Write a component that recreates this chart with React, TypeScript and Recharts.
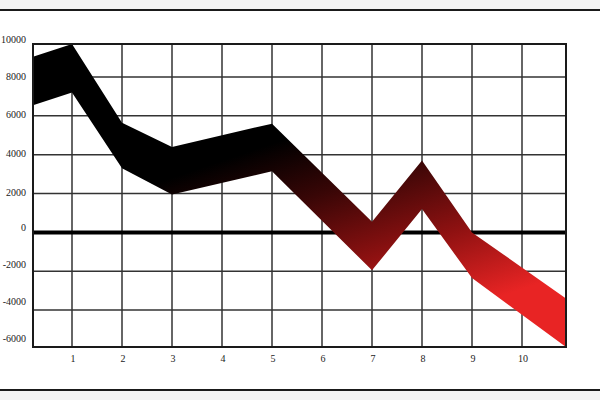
import React from "react";
import {
  ComposedChart,
  Area,
  XAxis,
  YAxis,
  CartesianGrid,
  ReferenceArea,
} from "recharts";

const xPositions = [0.22, 1, 2, 3, 5, 7, 8, 9, 10.88];
const upperValues = [9050, 9700, 5650, 4400, 5600, 550, 3700, 0, -3400];
const lowerValues = [6550, 7200, 3300, 1950, 3150, -1950, 1200, -2350, -5900];
const xTicks = [1, 2, 3, 4, 5, 6, 7, 8, 9, 10];
const yTicks = [-6000, -4000, -2000, 0, 2000, 4000, 6000, 8000, 10000];
const gridRows = [-4000, -2000, 2000, 4000, 6000, 8000];
const zeroLine = [
  { x: 0.22, z: 0 },
  { x: 10.88, z: 0 },
];

const data = xPositions.map((x, i) => ({ x, range: [lowerValues[i], upperValues[i]] }));

const YTick = (props: any) => {
  const { x, y, payload } = props;
  const v = payload.value as number;
  const shift = v <= 0 ? -5 + v / 1200 : v >= 10000 ? 1.5 : -1;
  return (
    <text x={x + 1} y={y} dy={3.5 + shift} textAnchor="end" fontFamily="'Liberation Serif', serif" fontSize={10} fill="#222">
      {v}
    </text>
  );
};

const XTick = (props: any) => {
  const { x, y, payload } = props;
  return (
    <text x={x + 1} y={y} dy={7} textAnchor="middle" fontFamily="'Liberation Serif', serif" fontSize={10} fill="#222">
      {payload.value}
    </text>
  );
};

export default function App() {
  return (
    <div
      style={{
        position: "absolute",
        left: 0,
        top: 0,
        width: 600,
        height: 400,
        background: "#f3f3f3",
        overflow: "hidden",
      }}
    >
      <div
        style={{
          position: "absolute",
          left: 0,
          top: 9,
          width: 600,
          height: 378,
          background: "#fff",
          borderTop: "2px solid #1a1a1a",
          borderBottom: "2px solid #1a1a1a",
        }}
      />
      <div style={{ position: "absolute", left: 0, top: 0 }}>
        <ComposedChart
          width={600}
          height={400}
          data={data}
          margin={{ top: 44, right: 34, bottom: 23, left: 0 }}
        >
          <defs>
            <linearGradient id="bandGrad" x1="0" y1="0" x2="0.6" y2="1">
              <stop offset="0%" stopColor="#000" />
              <stop offset="44%" stopColor="#000" />
              <stop offset="60%" stopColor="#380606" />
              <stop offset="80%" stopColor="#8e1111" />
              <stop offset="100%" stopColor="#e82424" />
            </linearGradient>
          </defs>
          <CartesianGrid
            stroke="#333"
            strokeWidth={1.5}
            horizontalValues={gridRows}
            verticalValues={xTicks}
          />
          <XAxis
            type="number"
            dataKey="x"
            domain={[0.22, 10.88]}
            ticks={xTicks}
            tick={<XTick />}
            tickLine={false}
            axisLine={false}
            height={30}
            allowDataOverflow
          />
          <YAxis
            type="number"
            domain={[-5900, 9700]}
            ticks={yTicks}
            tick={<YTick />}
            tickLine={false}
            axisLine={false}
            width={33}
            allowDataOverflow
            interval={0}
          />
          <Area
            data={zeroLine}
            type="linear"
            dataKey="z"
            stroke="#000"
            strokeWidth={4}
            fill="none"
            fillOpacity={0}
            dot={false}
            activeDot={false}
            isAnimationActive={false}
          />
          <Area
            type="linear"
            dataKey="range"
            stroke="none"
            fill="url(#bandGrad)"
            fillOpacity={1}
            isAnimationActive={false}
            activeDot={false}
            dot={false}
          />
          <ReferenceArea
            x1={0.22}
            x2={10.88}
            y1={-5900}
            y2={9700}
            fill="none"
            stroke="#1a1a1a"
            strokeWidth={2}
          />
        </ComposedChart>
      </div>
    </div>
  );
}
